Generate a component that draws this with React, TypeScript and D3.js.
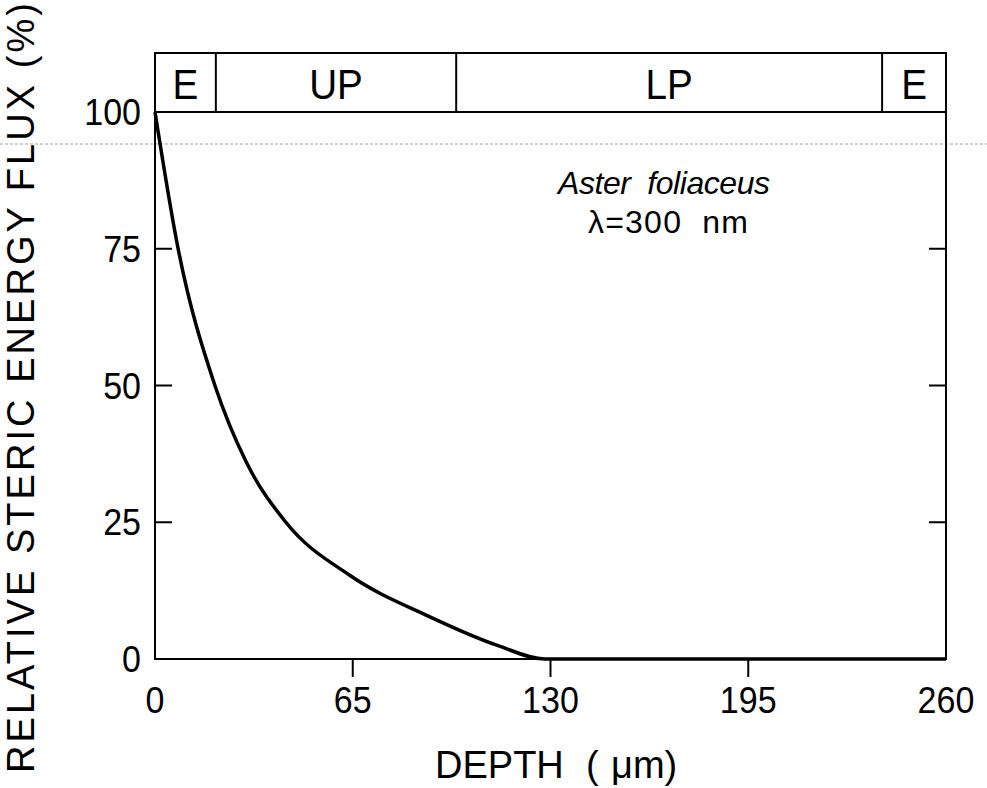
import React from "react";
import * as d3 from "d3";

// Depth profile of relative steric energy flux (Aster foliaceus, 300 nm)
const depthUm = [0, 7.6, 19.7, 30, 43, 64, 90, 113, 128, 194, 260];
const fluxPct = [100, 75, 50, 36, 25, 15.3, 7.8, 2.4, 0, 0, 0];

const xTicks = [0, 65, 130, 195, 260];
const yTicks = [0, 25, 50, 75, 100];

// Leaf tissue zones along the depth axis
const zoneEdges = [0, 20, 99, 239, 260];
const zoneLabels = ["E", "UP", "LP", "E"];

const W = 987;
const H = 788;
const FONT = "'Liberation Sans', Arial, Helvetica, sans-serif";

export default function App() {
  const x = d3.scaleLinear().domain([0, 260]).range([155, 946]);
  const y = d3.scaleLinear().domain([0, 100]).range([659, 112]);
  const bandTop = 53;
  const bandBottom = y(100);

  const pts = depthUm.map((d, i) => [d, fluxPct[i]] as [number, number]);
  const line = d3
    .line<[number, number]>()
    .x((d) => x(d[0]))
    .y((d) => y(d[1]))
    .curve(d3.curveMonotoneX);

  const [x0, x1] = x.range();
  const tickLen = 17;

  return (
    <svg
      width={W}
      height={H}
      style={{ position: "absolute", left: 0, top: 0, background: "#fff" }}
      fontFamily={FONT}
    >
      <rect x={0} y={0} width={W} height={H} fill="#fff" />

      {/* faint dotted crease across the sheet */}
      <line x1={0} x2={W} y1={144} y2={144} stroke="#a0a0a0" strokeWidth={1} strokeDasharray="3 2" />

      {/* zone band above the plot */}
      <rect x={x0} y={bandTop} width={x1 - x0} height={bandBottom - bandTop} fill="none" stroke="#000" strokeWidth={2} />
      {zoneEdges.slice(1, -1).map((e, i) => (
        <line key={"ze" + i} x1={x(e)} x2={x(e)} y1={bandTop} y2={bandBottom} stroke="#000" strokeWidth={2} />
      ))}
      {zoneLabels.map((lab, i) => (
        <text
          key={"zl" + i}
          transform={`translate(${(x(zoneEdges[i]) + x(zoneEdges[i + 1])) / 2},${bandBottom - 13}) scale(0.92,1)`}
          textAnchor="middle"
          fontSize={42}
          fill="#000"
        >
          {lab}
        </text>
      ))}

      {/* plot frame */}
      <rect x={x0} y={y(100)} width={x1 - x0} height={y(0) - y(100)} fill="none" stroke="#000" strokeWidth={2} />

      {/* y ticks, inward on both sides */}
      {yTicks.map((t) => (
        <g key={"yt" + t}>
          {t > 0 && t < 100 && (
            <>
              <line x1={x0} x2={x0 + tickLen} y1={y(t)} y2={y(t)} stroke="#000" strokeWidth={2} />
              <line x1={x1} x2={x1 - tickLen} y1={y(t)} y2={y(t)} stroke="#000" strokeWidth={2} />
            </>
          )}
          <text
            transform={`translate(141,${y(t) + 13}) scale(0.92,1)`}
            textAnchor="end"
            fontSize={37}
            fill="#000"
          >
            {t}
          </text>
        </g>
      ))}

      {/* x ticks, pointing down */}
      {xTicks.map((t) => (
        <g key={"xt" + t}>
          {t > 0 && t < 260 && (
            <line x1={x(t)} x2={x(t)} y1={y(0)} y2={y(0) + 18} stroke="#000" strokeWidth={2} />
          )}
          <text
            transform={`translate(${x(t)},713) scale(0.92,1)`}
            textAnchor="middle"
            fontSize={37}
            fill="#000"
          >
            {t}
          </text>
        </g>
      ))}

      {/* flux curve */}
      <path d={line(pts) || ""} fill="none" stroke="#000" strokeWidth={3.5} strokeLinejoin="round" />

      {/* annotation */}
      <text x={558} y={194} fontSize={32} fontStyle="italic" fill="#000" textLength={212} lengthAdjust="spacing">
        {"Aster\u00a0\u00a0foliaceus"}
      </text>
      <text x={588} y={233} fontSize={32} fill="#000" textLength={160} lengthAdjust="spacing">
        {"λ=300\u00a0\u00a0nm"}
      </text>

      {/* axis titles */}
      <text y={778} fontSize={38} fill="#000">
        <tspan x={435}>DEPTH</tspan>
        <tspan x={586}>(</tspan>
        <tspan x={611}>μm)</tspan>
      </text>
      <text
        transform="translate(34,388) rotate(-90)"
        textAnchor="middle"
        fontSize={38}
        fill="#000"
        textLength={770}
        lengthAdjust="spacing"
      >
        RELATIVE STERIC ENERGY FLUX (%)
      </text>
    </svg>
  );
}
